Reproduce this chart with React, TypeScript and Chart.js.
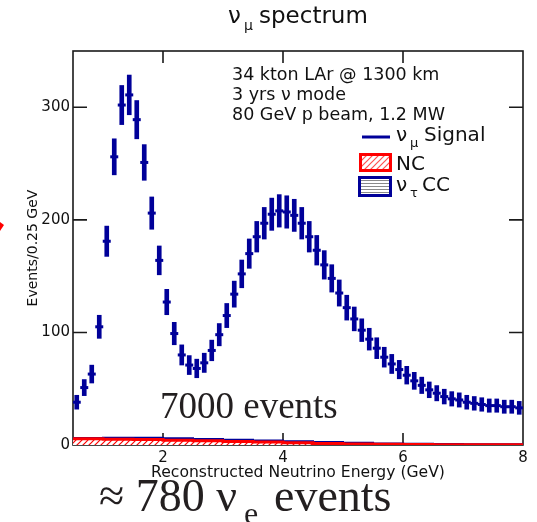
import React, { useEffect, useRef } from "react";
import { Chart, registerables } from "chart.js";

Chart.register(...registerables);

// Bin centres of the 0.125 GeV reconstructed-energy bins (GeV)
const energyCenters = [
  0.5625, 0.6875, 0.8125, 0.9375, 1.0625, 1.1875, 1.3125, 1.4375, 1.5625, 1.6875,
  1.8125, 1.9375, 2.0625, 2.1875, 2.3125, 2.4375, 2.5625, 2.6875, 2.8125, 2.9375,
  3.0625, 3.1875, 3.3125, 3.4375, 3.5625, 3.6875, 3.8125, 3.9375, 4.0625, 4.1875,
  4.3125, 4.4375, 4.5625, 4.6875, 4.8125, 4.9375, 5.0625, 5.1875, 5.3125, 5.4375,
  5.5625, 5.6875, 5.8125, 5.9375, 6.0625, 6.1875, 6.3125, 6.4375, 6.5625, 6.6875,
  6.8125, 6.9375, 7.0625, 7.1875, 7.3125, 7.4375, 7.5625, 7.6875, 7.8125, 7.9375,
];

// νμ signal events per bin
const signalEvents = [
  38, 51, 63, 105, 181, 256, 302, 311, 289, 251,
  206, 164, 127, 99, 80, 71, 68, 73, 84, 98,
  115, 134, 152, 170, 185, 197, 205, 208, 207, 204,
  197, 185, 173, 160, 148, 135, 122, 112, 102, 94,
  86, 78, 72, 67, 62, 57, 53, 49, 46, 43,
  41, 40, 38, 37, 36, 35, 35, 34, 34, 33,
];

// Background histograms (0.5 GeV bins)
const bgEdges = [0.5, 1, 1.5, 2, 2.5, 3, 3.5, 4, 4.5, 5, 5.5, 6, 6.5, 7, 7.5, 8];
const ncEvents = [5.5, 5.2, 4.8, 4.3, 3.8, 3.2, 2.6, 2.0, 1.4, 0.9, 0.6, 0.4, 0.3, 0.2, 0.2];
const nutauEvents = [0.8, 1.3, 1.6, 1.7, 1.6, 1.5, 1.5, 1.4, 1.2, 1.0, 0.8, 0.7, 0.6, 0.5, 0.5];

const xTickValues = [2, 4, 6, 8];
const yTickValues = [0, 100, 200, 300];
const infoLines = ["34 kton LAr @ 1300 km", "3 yrs \u03bd mode", "80 GeV p beam, 1.2 MW"];

const NAVY = "#000099";
const RED = "#ff0000";
const INK = "#111111";
const SANS = "'DejaVu Sans', sans-serif";
const SERIF = "'Liberation Serif', 'Times New Roman', serif";
const NOTE = "#231f20";

function makePattern(ctx: CanvasRenderingContext2D, kind: "diag" | "horiz", legend = false) {
  const c = document.createElement("canvas");
  const s = kind === "diag" ? 6 : 3;
  c.width = s;
  c.height = s;
  const g = c.getContext("2d")!;
  g.fillStyle = "#ffffff";
  g.fillRect(0, 0, s, s);
  if (kind === "diag") {
    g.strokeStyle = legend ? "#ff5050" : RED;
    g.lineWidth = 1.2;
    g.beginPath();
    g.moveTo(0, s);
    g.lineTo(s, 0);
    g.moveTo(-1, 1);
    g.lineTo(1, -1);
    g.moveTo(s - 1, s + 1);
    g.lineTo(s + 1, s - 1);
    g.stroke();
  } else {
    g.fillStyle = "#8a8a8a";
    g.fillRect(0, 0, s, 1);
  }
  return ctx.createPattern(c, "repeat")!;
}

function stepData(values: number[]) {
  const pts = values.map((v, i) => ({ x: bgEdges[i], y: v }));
  pts.push({ x: bgEdges[bgEdges.length - 1], y: values[values.length - 1] });
  return pts;
}

const decorPlugin = {
  id: "decor",
  beforeDatasetsDraw(chart: any) {
    const { ctx, chartArea: a, scales } = chart;
    const x = scales.x;
    const y = scales.y;
    ctx.save();
    ctx.strokeStyle = "#1a1a1a";
    ctx.lineWidth = 1.6;
    ctx.strokeRect(a.left, a.top, a.right - a.left, a.bottom - a.top);
    ctx.beginPath();
    for (const t of y.ticks) {
      if (t.value <= 0) continue;
      const py = y.getPixelForValue(t.value);
      ctx.moveTo(a.left, py);
      ctx.lineTo(a.left + 14, py);
      ctx.moveTo(a.right, py);
      ctx.lineTo(a.right - 14, py);
    }
    for (const t of x.ticks) {
      if (t.value >= 8) continue;
      const px = x.getPixelForValue(t.value);
      ctx.moveTo(px, a.bottom);
      ctx.lineTo(px, a.bottom - 12);
      ctx.moveTo(px, a.top);
      ctx.lineTo(px, a.top + 12);
    }
    ctx.stroke();
    ctx.restore();
  },
  afterDraw(chart: any) {
    const { ctx } = chart;
    ctx.save();
    ctx.textBaseline = "alphabetic";
    ctx.textAlign = "left";
    ctx.fillStyle = INK;

    // title
    ctx.font = `23px ${SANS}`;
    ctx.fillText("\u03bd", 228, 23);
    ctx.font = `14px ${SANS}`;
    ctx.fillText("\u03bc", 244, 30);
    ctx.font = `23px ${SANS}`;
    ctx.fillText("spectrum", 259, 23);

    // info lines
    ctx.font = `17.5px ${SANS}`;
    infoLines.forEach((s, i) => ctx.fillText(s, 232, 80 + i * 20));

    // legend
    ctx.strokeStyle = NAVY;
    ctx.lineWidth = 3;
    ctx.beginPath();
    ctx.moveTo(362, 137);
    ctx.lineTo(390, 137);
    ctx.stroke();

    ctx.fillStyle = makePattern(ctx, "diag", true);
    ctx.fillRect(360.5, 154.5, 30, 16);
    ctx.strokeStyle = RED;
    ctx.strokeRect(360.5, 154.5, 30, 16);

    ctx.fillStyle = makePattern(ctx, "horiz");
    ctx.fillRect(359.5, 177.5, 31, 18);
    ctx.strokeStyle = NAVY;
    ctx.strokeRect(359.5, 177.5, 31, 18);

    ctx.fillStyle = INK;
    ctx.font = `20px ${SANS}`;
    ctx.fillText("\u03bd", 396, 141);
    ctx.fillText("Signal", 424, 141);
    ctx.fillText("NC", 396, 170);
    ctx.fillText("\u03bd", 396, 191);
    ctx.fillText("CC", 422, 191);
    ctx.font = `13px ${SANS}`;
    ctx.fillText("\u03bc", 410, 147);
    ctx.fillText("\u03c4", 410, 197);

    // annotations
    ctx.fillStyle = NOTE;
    ctx.font = `37px ${SERIF}`;
    ctx.fillText("7000 events", 160, 418);
    ctx.font = `46px ${SERIF}`;
    ctx.fillText("\u2248 780 \u03bd", 99, 511);
    ctx.fillText("events", 274, 511);
    ctx.font = `32px ${SERIF}`;
    ctx.fillText("e", 244, 524);

    // red arrow fragment at left edge
    ctx.fillStyle = RED;
    ctx.beginPath();
    ctx.moveTo(0, 222);
    ctx.lineTo(4, 225);
    ctx.lineTo(0, 231);
    ctx.closePath();
    ctx.fill();
    ctx.restore();
  },
};

export default function App() {
  const ref = useRef<HTMLCanvasElement>(null);

  useEffect(() => {
    const canvas = ref.current!;
    const ctx = canvas.getContext("2d")!;
    const ncPattern = makePattern(ctx, "diag");
    const tauPattern = makePattern(ctx, "horiz");
    const sumValues = ncEvents.map((v, i) => v + nutauEvents[i]);

    const chart = new Chart(canvas, {
      type: "bar",
      data: {
        datasets: [
          {
            type: "bar",
            label: "\u03bd\u03bc Signal",
            data: energyCenters.map((x, i) => ({
              x,
              y: [signalEvents[i] - Math.sqrt(signalEvents[i]), signalEvents[i] + Math.sqrt(signalEvents[i])],
            })) as any,
            backgroundColor: NAVY,
            borderWidth: 0,
            barThickness: 4,
            order: 0,
          },
          {
            type: "line",
            label: "centres",
            data: energyCenters.map((x, i) => ({ x, y: signalEvents[i] })),
            showLine: false,
            pointStyle: "line",
            pointRadius: 4,
            pointBorderWidth: 3,
            pointBorderColor: NAVY,
            pointBackgroundColor: NAVY,
            order: 0,
          },
          {
            type: "line",
            label: "NC",
            data: stepData(ncEvents),
            stepped: true,
            borderColor: RED,
            borderWidth: 3,
            backgroundColor: ncPattern,
            fill: "origin",
            pointRadius: 0,
            order: 1,
          },
          {
            type: "line",
            label: "\u03bd\u03c4 CC",
            data: stepData(sumValues),
            stepped: true,
            borderColor: NAVY,
            borderWidth: 2,
            backgroundColor: tauPattern,
            fill: 2,
            pointRadius: 0,
            order: 2,
          },
        ] as any,
      },
      options: {
        responsive: false,
        animation: false,
        layout: { padding: { top: 51, right: 14, left: 0, bottom: 0 } },
        plugins: {
          legend: { display: false },
          tooltip: { enabled: false },
          title: { display: false },
        },
        scales: {
          x: {
            type: "linear",
            min: 0.5,
            max: 8,
            offset: false,
            grid: { display: false, drawTicks: false },
            border: { display: false },
            afterBuildTicks: (s: any) => {
              s.ticks = xTickValues.map((v) => ({ value: v }));
            },
            afterFit: (s: any) => {
              s.height = 77;
            },
            ticks: {
              font: { family: SANS, size: 15 },
              color: INK,
              padding: 4,
              maxRotation: 0,
              autoSkip: false,
            },
            title: {
              display: true,
              text: "Reconstructed Neutrino Energy (GeV)",
              font: { family: SANS, size: 15.6, lineHeight: 1.2 },
              color: INK,
              padding: { top: 0, bottom: 39.6 },
            },
          },
          y: {
            type: "linear",
            min: 0,
            max: 350,
            grid: { display: false, drawTicks: false },
            border: { display: false },
            afterBuildTicks: (s: any) => {
              s.ticks = yTickValues.map((v) => ({ value: v }));
            },
            afterFit: (s: any) => {
              s.width = 73;
            },
            ticks: {
              font: { family: SANS, size: 15 },
              color: INK,
              padding: 3,
            },
            title: {
              display: true,
              text: "Events/0.25 GeV",
              font: { family: SANS, size: 14, lineHeight: 1.2 },
              color: INK,
              padding: { top: 24.6, bottom: 0 },
            },
          },
        },
      } as any,
      plugins: [decorPlugin],
    });
    return () => chart.destroy();
  }, []);

  return (
    <div style={{ position: "absolute", left: 0, top: 0, width: 537, height: 522, background: "#fff" }}>
      <canvas ref={ref} width={537} height={522} style={{ display: "block" }} />
    </div>
  );
}
